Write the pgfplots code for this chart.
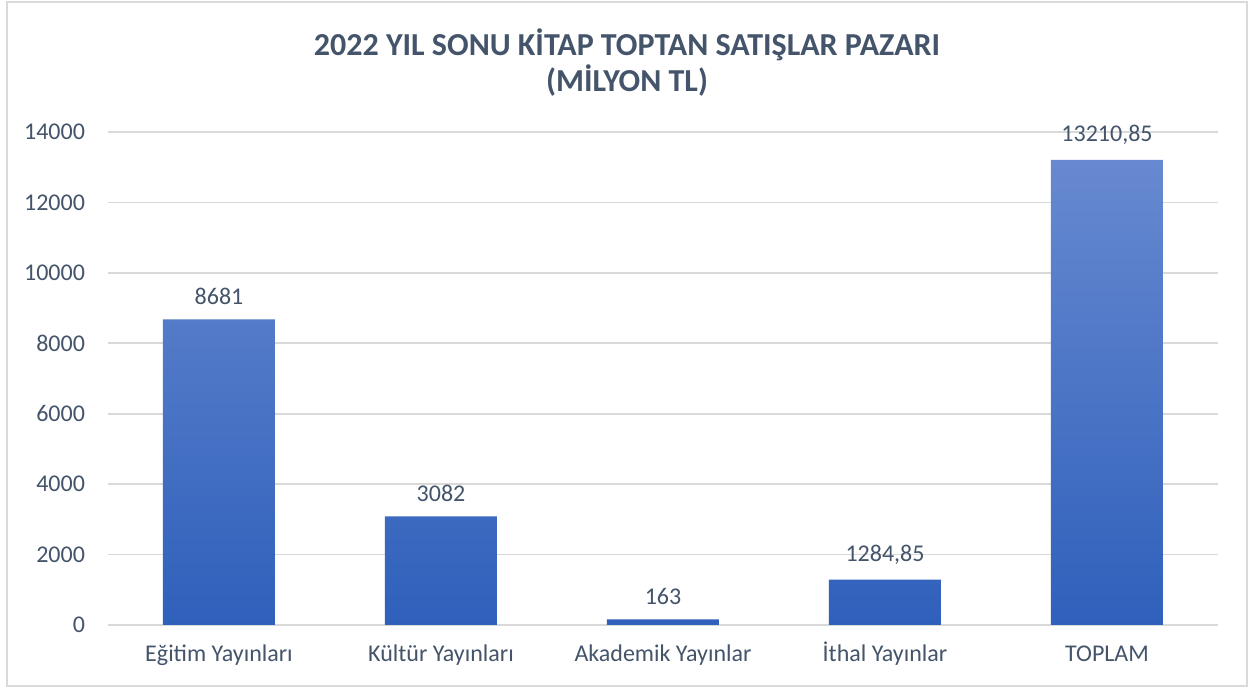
\documentclass[border=0pt]{standalone}
\usepackage{pgfplots}
\pgfplotsset{compat=1.18}
\usepackage{fontspec}
\setmainfont{Carlito}
\definecolor{txt}{RGB}{68,84,106}
\definecolor{gridc}{RGB}{217,217,217}
\definecolor{bartop}{RGB}{103,137,208}
\definecolor{barbot}{RGB}{47,96,187}
\begin{document}
\begin{tikzpicture}
\path[fill=white] (0,0) rectangle (626.5pt,344.5pt);
\draw[gridc, line width=0.8pt] (3.5pt,1.5pt) rectangle (623.5pt,343.5pt);
\node[font=\fontsize{16}{18}\selectfont\bfseries, text=txt, align=center] at (313.5pt,313pt)
  {2022 YIL SONU KİTAP TOPTAN SATIŞLAR PAZARI\\(MİLYON TL)};
\begin{axis}[
  at={(54pt,32pt)}, anchor=south west,
  scale only axis, width=555pt, height=246.5pt,
  ybar, bar width=56pt,
  xmin=-0.5, xmax=4.5, ymin=0, ymax=14000,
  xtick=data,
  xticklabels={Eğitim Yayınları, Kültür Yayınları, Akademik Yayınlar, İthal Yayınlar, TOPLAM},
  ytick={0,2000,...,14000},
  scaled y ticks=false,
  /pgf/number format/assume math mode=true,
  yticklabel={\pgfmathprintnumber[fixed,1000 sep={}]{\tick}},
  ymajorgrids, grid style={gridc, line width=0.8pt},
  axis x line*=bottom,
  axis y line*=left,
  x axis line style={gridc, line width=0.8pt, -},
  y axis line style={draw=none},
  major tick length=0pt,
  typeset ticklabels with strut,
  tick label style={font=\fontsize{12}{14}\selectfont, text=txt},
  yticklabel style={xshift=-8pt},
  xticklabel style={yshift=-5pt},
  nodes near coords={\pgfplotspointmeta},
  point meta=explicit symbolic,
  nodes near coords style={font=\fontsize{12}{14}\selectfont, text=txt, yshift=4pt},
  clip=false,
]
\addplot[draw=none, top color=bartop, bottom color=barbot] coordinates {
  (0,8681) [8681]
  (1,3082) [3082]
  (2,163) [163]
  (3,1284.85) [{1284,85}]
  (4,13210.85) [{13210,85}]
};
\end{axis}
\end{tikzpicture}
\end{document}
